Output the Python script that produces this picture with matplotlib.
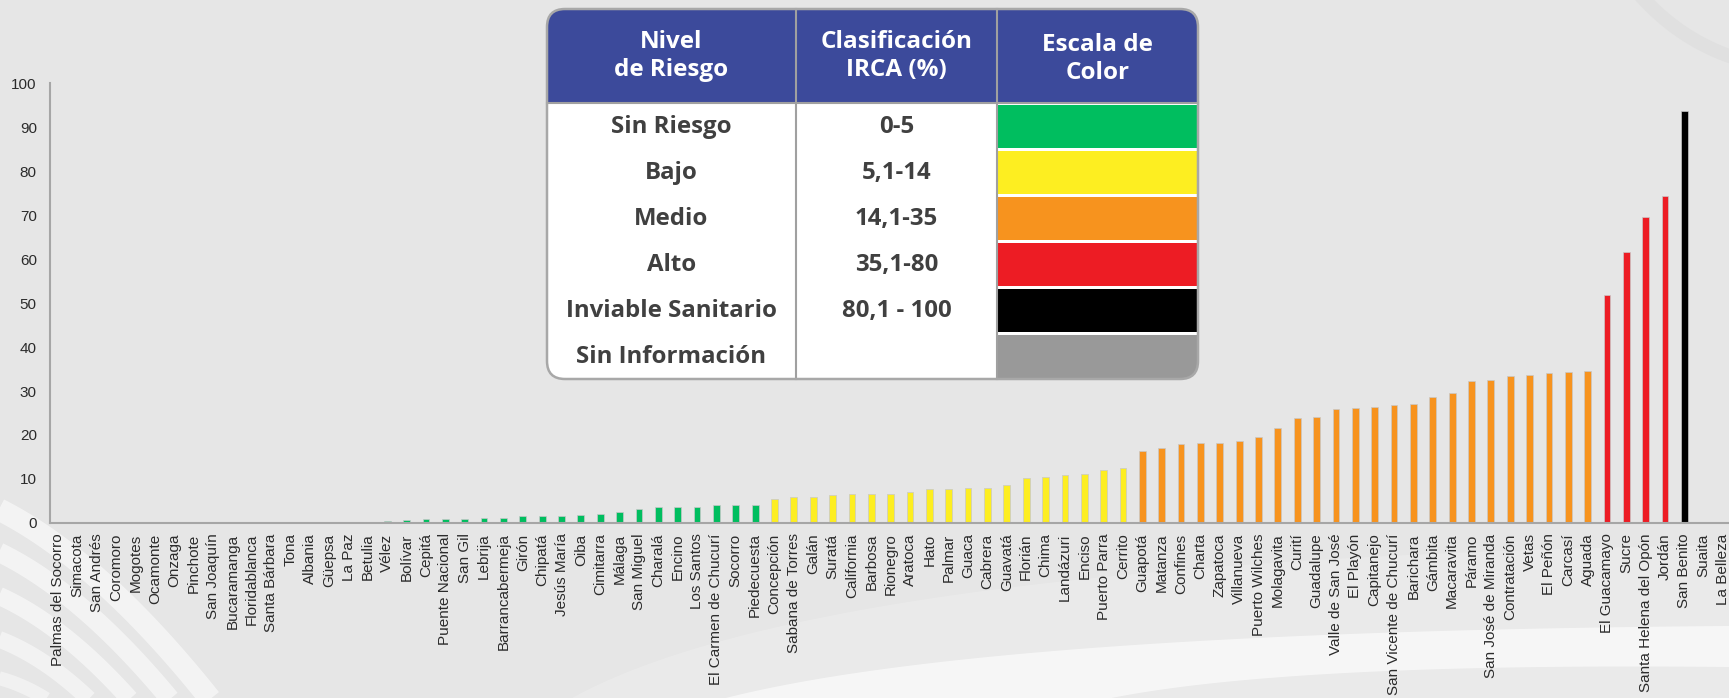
import matplotlib
matplotlib.use("Agg")
import matplotlib.pyplot as plt
from matplotlib.patches import FancyBboxPatch, Rectangle, Polygon
import numpy as np

# ---------------- data ----------------
municipios = [
    "Palmas del Socorro", "Simacota", "San Andrés", "Coromoro", "Mogotes", "Ocamonte",
    "Onzaga", "Pinchote", "San Joaquín", "Bucaramanga", "Floridablanca", "Santa Bárbara",
    "Tona", "Albania", "Güepsa", "La Paz", "Betulia", "Vélez", "Bolívar", "Cepitá",
    "Puente Nacional", "San Gil", "Lebrija", "Barrancabermeja", "Girón", "Chipatá",
    "Jesús María", "Oiba", "Cimitarra", "Málaga", "San Miguel", "Charalá", "Encino",
    "Los Santos", "El Carmen de Chucurí", "Socorro", "Piedecuesta", "Concepción",
    "Sabana de Torres", "Galán", "Suratá", "California", "Barbosa", "Rionegro", "Aratoca",
    "Hato", "Palmar", "Guaca", "Cabrera", "Guavatá", "Florián", "Chima", "Landázuri",
    "Enciso", "Puerto Parra", "Cerrito", "Guapotá", "Matanza", "Confines", "Charta",
    "Zapatoca", "Villanueva", "Puerto Wilches", "Molagavita", "Curití", "Guadalupe",
    "Valle de San José", "El Playón", "Capitanejo", "San Vicente de Chucurí", "Barichara",
    "Gámbita", "Macaravita", "Páramo", "San José de Miranda", "Contratación", "Vetas",
    "El Peñón", "Carcasí", "Aguada", "El Guacamayo", "Sucre", "Santa Helena del Opón",
    "Jordán", "San Benito", "Suaita", "La Belleza",
]
irca = [
    0, 0, 0, 0, 0, 0, 0, 0, 0, 0, 0, 0, 0, 0, 0, 0, 0, 0.4, 0.6, 0.8,
    0.8, 1.0, 1.2, 1.2, 1.5, 1.5, 1.5, 1.8, 2.0, 2.4, 3.1, 3.6, 3.6,
    3.6, 4.1, 4.2, 4.2, 5.5,
    5.8, 5.8, 6.3, 6.6, 6.5, 6.6, 7.1,
    7.8, 7.8, 7.9, 7.9, 8.7, 10.3, 10.5, 10.8,
    11.1, 12.0, 12.5, 16.3, 17.0, 17.9, 18.1,
    18.2, 18.7, 19.5, 21.5, 23.9, 24.1,
    25.9, 26.1, 26.4, 26.8, 27.1,
    28.6, 29.6, 32.3, 32.4, 33.4, 33.7,
    34.0, 34.3, 34.5, 51.9, 61.6, 69.6,
    74.3, 93.7, 0, 0,
]

niveles = ["Sin Riesgo", "Bajo", "Medio", "Alto", "Inviable Sanitario", "Sin Información"]
rangos = ["0-5", "5,1-14", "14,1-35", "35,1-80", "80,1 - 100", ""]
limites = [5, 14, 35, 80, 100]
colores_nivel = ["#00BE5F", "#FDEE21", "#F7931E", "#ED1C24", "#000000", "#999999"]
encabezados = ["Nivel\nde Riesgo", "Clasificación\nIRCA (%)", "Escala de\nColor"]
yticks = [0, 10, 20, 30, 40, 50, 60, 70, 80, 90, 100]


def color_for(v):
    for lim, c in zip(limites, colores_nivel):
        if v <= lim:
            return c
    return colores_nivel[-2]


W, H = 1729, 698
fig = plt.figure(figsize=(W / 100, H / 100), dpi=100)
fig.patch.set_facecolor("#E6E6E6")

# ---------------- background decoration ----------------
bg = fig.add_axes([0, 0, 1, 1], zorder=0)
bg.set_xlim(0, W)
bg.set_ylim(H, 0)
bg.axis("off")
t = np.linspace(0, 1, 80)


def qcurve(p0, p1, p2):
    p0, p1, p2 = map(np.array, (p0, p1, p2))
    pts = ((1 - t) ** 2)[:, None] * p0 + (2 * (1 - t) * t)[:, None] * p1 + (t ** 2)[:, None] * p2
    return pts[:, 0], pts[:, 1]


# bottom-left light stripes (curved)
for (y0, xe, lw, a) in [(505, 215, 16, 0.55), (548, 175, 14, 0.55),
                        (592, 135, 13, 0.55), (636, 95, 12, 0.5), (676, 55, 10, 0.45)]:
    xs, ys = qcurve((-10, y0), (xe * 0.45, y0 + (705 - y0) * 0.25), (xe, 705))
    bg.plot(xs, ys, color="white", lw=lw, alpha=a, solid_capstyle="butt")

# bottom-right subtle large arc region
xs_t, ys_t = qcurve((560, 705), (800, 560), (1729, 545))
poly = np.vstack([np.column_stack([xs_t, ys_t]), [[1729, 705], [560, 705]]])
bg.add_patch(Polygon(poly, closed=True, facecolor="white", alpha=0.18, edgecolor="none"))
# bright band
xa, ya = qcurve((700, 705), (950, 632), (1729, 626))
xb, yb = qcurve((1729, 667), (1250, 662), (1080, 705))
poly2 = np.vstack([np.column_stack([xa, ya]), np.column_stack([xb, yb])])
bg.add_patch(Polygon(poly2, closed=True, facecolor="white", alpha=0.6, edgecolor="none"))
# top-right faint arc
xs3, ys3 = qcurve((1640, -5), (1680, 40), (1735, 58))
bg.plot(xs3, ys3, color="#DCDCDC", lw=10, alpha=0.6)

# ---------------- main bar chart ----------------
ax = fig.add_axes([50 / W, 175 / H, (W - 50) / W, 440 / H], zorder=1)
ax.patch.set_alpha(0)
x = np.arange(len(municipios))
cols = [color_for(v) for v in irca]
ax.bar(x, irca, width=0.35, color=cols, edgecolor="#C8C8C8", linewidth=0.5)
ax.set_xlim(-0.42, len(municipios) - 0.7)
ax.set_ylim(0, 100)
ax.set_yticks(yticks)
ax.set_yticklabels([str(v) for v in yticks], fontsize=11, color="#2b2b2b",
                   family="Liberation Sans")
ax.set_xticks(x)
ax.set_xticklabels(municipios, rotation=90, fontsize=11, color="#2b2b2b",
                   family="Liberation Sans")
ax.tick_params(axis="y", length=0, pad=9.5)
ax.tick_params(axis="x", length=0, pad=7.5)
for s in ["top", "right"]:
    ax.spines[s].set_visible(False)
for s in ["left", "bottom"]:
    ax.spines[s].set_color("#A6A6A6")
    ax.spines[s].set_linewidth(1.5)

# ---------------- legend table ----------------
ov = fig.add_axes([0, 0, 1, 1], zorder=3)
ov.set_xlim(0, W)
ov.set_ylim(H, 0)
ov.axis("off")
ov.patch.set_alpha(0)

tx0, tx1 = 547, 1198
ty0, ty1 = 9, 379
hy = 103
c1, c2 = 796, 997
rowh = (ty1 - hy) / 6.0

box = FancyBboxPatch((tx0, ty0), tx1 - tx0, ty1 - ty0,
                     boxstyle="round,pad=0,rounding_size=18",
                     facecolor="white", edgecolor="none", zorder=1)
ov.add_patch(box)
hdr = Rectangle((tx0, ty0), tx1 - tx0, hy - ty0, facecolor="#3C4A9B",
                edgecolor="none", zorder=2)
ov.add_patch(hdr)
hdr.set_clip_path(box)
for i, c in enumerate(colores_nivel):
    r = Rectangle((c2 + 1, hy + 2 + i * rowh), tx1 - c2, rowh - 3,
                  facecolor=c, edgecolor="none", zorder=2)
    ov.add_patch(r)
    r.set_clip_path(box)
for xc in (c1, c2):
    ov.plot([xc, xc], [ty0, ty1], color="#A0A0A0", lw=1.5, zorder=3)
ov.plot([tx0, tx1], [hy, hy], color="#A0A0A0", lw=1.5, zorder=3)
border = FancyBboxPatch((tx0, ty0), tx1 - tx0, ty1 - ty0,
                        boxstyle="round,pad=0,rounding_size=18",
                        facecolor="none", edgecolor="#A8A8A8", lw=1.8, zorder=4)
ov.add_patch(border)

fam = ["Open Sans", "DejaVu Sans"]
centers = [(tx0 + c1) / 2, (c1 + c2) / 2, (c2 + tx1) / 2]
hdr_y = [56, 56, 59]
for txt, cx, cy in zip(encabezados, centers, hdr_y):
    ov.text(cx, cy, txt, ha="center", va="center", color="white",
            fontsize=17.5, fontweight="bold", family=fam, linespacing=1.2, zorder=5)
for i, (n, rg) in enumerate(zip(niveles, rangos)):
    cy = hy + rowh * (i + 0.5) + 1
    ov.text(centers[0], cy, n, ha="center", va="center", color="#404040",
            fontsize=17.3, fontweight="bold", family=fam, zorder=5)
    if rg:
        ov.text(centers[1], cy, rg, ha="center", va="center", color="#404040",
                fontsize=17.3, fontweight="bold", family=fam, zorder=5)

fig.savefig("out.png", dpi=100, facecolor=fig.get_facecolor())
